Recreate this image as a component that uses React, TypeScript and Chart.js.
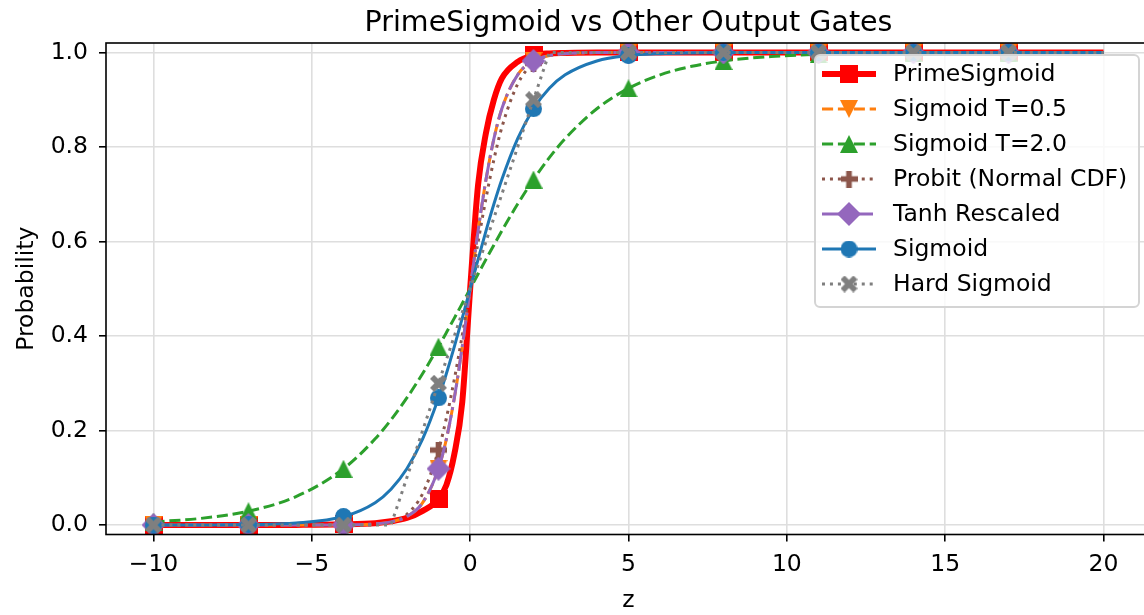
import React, { useEffect, useRef } from 'react';
import { Chart, registerables } from 'chart.js';

Chart.register(...registerables);

// ---- Data ----
const zValues = [-10, -8.5, -7, -5.5, -4, -3, -2.5, -2, -1.5, -1, -0.75, -0.5, -0.25, 0, 0.25, 0.5, 0.75, 1, 1.5, 2, 2.5, 3, 4, 5, 6, 7, 8, 9.5, 11, 14, 17, 20];

const primeSigmoid = [0, 0, 0, 0.0003, 0.0015, 0.004, 0.008, 0.015, 0.03, 0.055, 0.085, 0.15, 0.26, 0.5, 0.72, 0.83, 0.9, 0.945, 0.98, 0.994, 0.998, 0.999, 1, 1, 1, 1, 1, 1, 1, 1, 1, 1];
const sigmoidT05 = [0, 0, 0, 0.00002, 0.0003, 0.0025, 0.0067, 0.018, 0.0474, 0.1192, 0.1824, 0.2689, 0.3775, 0.5, 0.6225, 0.7311, 0.8176, 0.8808, 0.9526, 0.982, 0.9933, 0.9975, 0.9997, 1, 1, 1, 1, 1, 1, 1, 1, 1];
const sigmoidT2 = [0.0067, 0.0141, 0.0293, 0.0601, 0.1192, 0.1824, 0.2227, 0.2689, 0.3208, 0.3775, 0.4073, 0.4378, 0.4688, 0.5, 0.5312, 0.5622, 0.5927, 0.6225, 0.6792, 0.7311, 0.7773, 0.8176, 0.8808, 0.9241, 0.9526, 0.9707, 0.982, 0.9914, 0.9959, 0.9991, 0.9998, 0.99995];
const probit = [0, 0, 0, 0, 0.00003, 0.0013, 0.0062, 0.0228, 0.0668, 0.1587, 0.2266, 0.3085, 0.4013, 0.5, 0.5987, 0.6915, 0.7734, 0.8413, 0.9332, 0.9772, 0.9938, 0.9987, 1, 1, 1, 1, 1, 1, 1, 1, 1, 1];
const tanhRescaled = [0, 0, 0, 0.00002, 0.0003, 0.0025, 0.0067, 0.018, 0.0474, 0.1192, 0.1824, 0.2689, 0.3775, 0.5, 0.6225, 0.7311, 0.8176, 0.8808, 0.9526, 0.982, 0.9933, 0.9975, 0.9997, 1, 1, 1, 1, 1, 1, 1, 1, 1];
const sigmoid = [0.00005, 0.0002, 0.0009, 0.0041, 0.018, 0.0474, 0.0759, 0.1192, 0.1824, 0.2689, 0.3208, 0.3775, 0.4378, 0.5, 0.5622, 0.6225, 0.6792, 0.7311, 0.8176, 0.8808, 0.9241, 0.9526, 0.982, 0.9933, 0.9975, 0.9991, 0.9997, 0.9999, 1, 1, 1, 1];
const hardSigmoid = [0, 0, 0, 0, 0, 0, 0, 0.1, 0.2, 0.3, 0.35, 0.4, 0.45, 0.5, 0.55, 0.6, 0.65, 0.7, 0.8, 0.9, 1, 1, 1, 1, 1, 1, 1, 1, 1, 1, 1, 1];

const markerZ = [-10, -7, -4, -1, 2, 5, 8, 11, 14, 17];
const xTicks = [-10, -5, 0, 5, 10, 15, 20];
const yTicks = [0, 0.2, 0.4, 0.6, 0.8, 1.0];

const seriesLabels = ['PrimeSigmoid', 'Sigmoid T=0.5', 'Sigmoid T=2.0', 'Probit (Normal CDF)', 'Tanh Rescaled', 'Sigmoid', 'Hard Sigmoid'];
const seriesValues = [primeSigmoid, sigmoidT05, sigmoidT2, probit, tanhRescaled, sigmoid, hardSigmoid];
const seriesColors = ['#ff0000', '#ff7f0e', '#2ca02c', '#8c564b', '#9467bd', '#1f77b4', '#7f7f7f'];
const seriesWidths = [6, 3, 3, 3, 3, 3, 3];
const seriesDashes: number[][] = [[], [11.1, 4.8], [11.1, 4.8], [3, 4.95], [19.2, 4.8, 3, 4.8], [], [3, 4.95]];
const seriesMarkers = ['square', 'triDown', 'triUp', 'plus', 'diamond', 'circle', 'x'];
const markerSizes = [18, 18, 18, 17, 24, 17, 17];

const FONT = '"DejaVu Sans", "Liberation Sans", sans-serif';

function makeMarker(shape: string, color: string, size: number): HTMLCanvasElement {
  const c = document.createElement('canvas');
  c.width = size;
  c.height = size;
  const g = c.getContext('2d')!;
  g.fillStyle = color;
  const h = size / 2;
  g.beginPath();
  switch (shape) {
    case 'square':
      g.rect(0, 0, size, size);
      break;
    case 'circle':
      g.arc(h, h, h, 0, Math.PI * 2);
      break;
    case 'triUp':
      g.moveTo(h, 0); g.lineTo(size, size); g.lineTo(0, size); g.closePath();
      break;
    case 'triDown':
      g.moveTo(0, 0); g.lineTo(size, 0); g.lineTo(h, size); g.closePath();
      break;
    case 'diamond':
      g.moveTo(h, 0); g.lineTo(size, h); g.lineTo(h, size); g.lineTo(0, h); g.closePath();
      break;
    case 'plus': {
      const t = size / 3;
      g.rect(t, 0, t, size);
      g.rect(0, t, size, t);
      break;
    }
    case 'x': {
      const t = size * 0.17;
      const a = h * Math.SQRT2 - t;
      g.translate(h, h);
      g.rotate(Math.PI / 4);
      g.rect(-a, -t, 2 * a, 2 * t);
      g.rect(-t, -a, 2 * t, 2 * a);
      break;
    }
  }
  g.fill();
  return c;
}

export default function App() {
  const ref = useRef<HTMLCanvasElement>(null);

  useEffect(() => {
    document.documentElement.style.overflow = 'hidden';
    document.body.style.margin = '0';
    document.body.style.overflow = 'hidden';

    const markers = seriesMarkers.map((m, i) => makeMarker(m, seriesColors[i], markerSizes[i]));

    const datasets = seriesLabels.map((label, i) => ({
      label,
      data: zValues.map((z, k) => ({ x: z, y: seriesValues[i][k] })),
      borderColor: seriesColors[i],
      backgroundColor: seriesColors[i],
      borderWidth: seriesWidths[i],
      borderDash: seriesDashes[i],
      borderCapStyle: 'butt' as const,
      borderJoinStyle: 'round' as const,
      cubicInterpolationMode: i === 6 ? ('default' as const) : ('monotone' as const),
      tension: 0,
      pointStyle: markers[i] as any,
      pointRadius: (ctx: any) => (ctx.raw && markerZ.includes(ctx.raw.x) ? 8 : 0),
      pointHoverRadius: 0,
      pointBorderWidth: 0,
      order: seriesLabels.length - i,
      clip: 0,
      fill: false,
    }));

    const framePlugin = {
      id: 'frameAndLegend',
      afterDatasetsDraw(chart: any) {
        const { ctx, chartArea } = chart;
        const { left, right, top, bottom } = chartArea;
        ctx.save();
        // spines
        ctx.strokeStyle = '#000';
        ctx.lineWidth = 1.6;
        ctx.setLineDash([]);
        ctx.strokeRect(left, top, right - left, bottom - top);

        // title
        ctx.fillStyle = '#000';
        ctx.font = `28.5px ${FONT}`;
        ctx.textAlign = 'center';
        ctx.textBaseline = 'alphabetic';
        ctx.fillText('PrimeSigmoid vs Other Output Gates', (left + right) / 2, 31);

        // legend box
        const bx = 815, by = 55, bw = 324, bh = 252, r = 5;
        ctx.beginPath();
        ctx.moveTo(bx + r, by);
        ctx.arcTo(bx + bw, by, bx + bw, by + bh, r);
        ctx.arcTo(bx + bw, by + bh, bx, by + bh, r);
        ctx.arcTo(bx, by + bh, bx, by, r);
        ctx.arcTo(bx, by, bx + bw, by, r);
        ctx.closePath();
        ctx.fillStyle = 'rgba(255,255,255,0.8)';
        ctx.fill();
        ctx.strokeStyle = '#d4d4d4';
        ctx.lineWidth = 2;
        ctx.stroke();

        seriesLabels.forEach((label, i) => {
          const y = 74 + i * 35;
          ctx.strokeStyle = seriesColors[i];
          ctx.lineWidth = seriesWidths[i];
          ctx.lineCap = 'butt';
          ctx.setLineDash(seriesDashes[i]);
          ctx.beginPath();
          ctx.moveTo(822, y);
          ctx.lineTo(876, y);
          ctx.stroke();
          ctx.setLineDash([]);
          const m = markers[i];
          ctx.drawImage(m, 849 - m.width / 2, y - m.height / 2);
          ctx.fillStyle = '#000';
          ctx.font = `23.5px ${FONT}`;
          ctx.textAlign = 'left';
          ctx.textBaseline = 'middle';
          ctx.fillText(label, 893, y + 1);
        });
        ctx.restore();
      },
    };

    const chart = new Chart(ref.current!, {
      type: 'line',
      data: { datasets: datasets as any },
      options: {
        responsive: false,
        devicePixelRatio: 1,
        animation: false,
        layout: { padding: { left: 0, right: 9, top: 43, bottom: 0 } },
        plugins: {
          legend: { display: false },
          title: { display: false },
          tooltip: { enabled: false },
        },
        scales: {
          x: {
            type: 'linear',
            min: -11.5,
            max: 21.5,
            afterBuildTicks: (s: any) => {
              s.ticks = xTicks.map((v) => ({ value: v }));
            },
            afterFit: (s: any) => {
              s.height = 80.5;
              s.paddingLeft = 0;
              s.paddingRight = 0;
            },
            ticks: {
              color: '#000',
              font: { family: FONT, size: 23.5 },
              padding: 9,
              maxRotation: 0,
              autoSkip: false,
              callback: (v: any) => String(v).replace('-', '\u2212'),
            },
            grid: {
              color: '#dedede',
              lineWidth: 1.6,
              tickColor: '#000',
              tickLength: 7,
              tickWidth: 1.6,
            },
            border: { display: false },
            title: {
              display: true,
              text: 'z',
              color: '#000',
              font: { family: FONT, size: 23.5, lineHeight: 1.2 },
              padding: { top: 0, bottom: 0 },
            },
          },
          y: {
            type: 'linear',
            min: -0.02,
            max: 1.02,
            afterBuildTicks: (s: any) => {
              s.ticks = yTicks.map((v) => ({ value: v }));
            },
            afterFit: (s: any) => {
              s.width = 106;
              s.paddingTop = 0;
              s.paddingBottom = 0;
            },
            ticks: {
              color: '#000',
              font: { family: FONT, size: 23.5 },
              padding: 11,
              autoSkip: false,
              callback: (v: any) => Number(v).toFixed(1),
            },
            grid: {
              color: '#dedede',
              lineWidth: 1.6,
              tickColor: '#000',
              tickLength: 7,
              tickWidth: 1.6,
            },
            border: { display: false },
            title: {
              display: true,
              text: 'Probability',
              color: '#000',
              font: { family: FONT, size: 23.5, lineHeight: 1.2 },
              padding: { top: 13, bottom: 0 },
            },
          },
        },
      },
      plugins: [framePlugin],
    });

    return () => chart.destroy();
  }, []);

  return (
    <div style={{ position: 'absolute', left: 0, top: 0, width: 1160, height: 615, overflow: 'hidden' }}>
      <canvas ref={ref} width={1160} height={615} style={{ display: 'block', width: 1160, height: 615 }} />
    </div>
  );
}
